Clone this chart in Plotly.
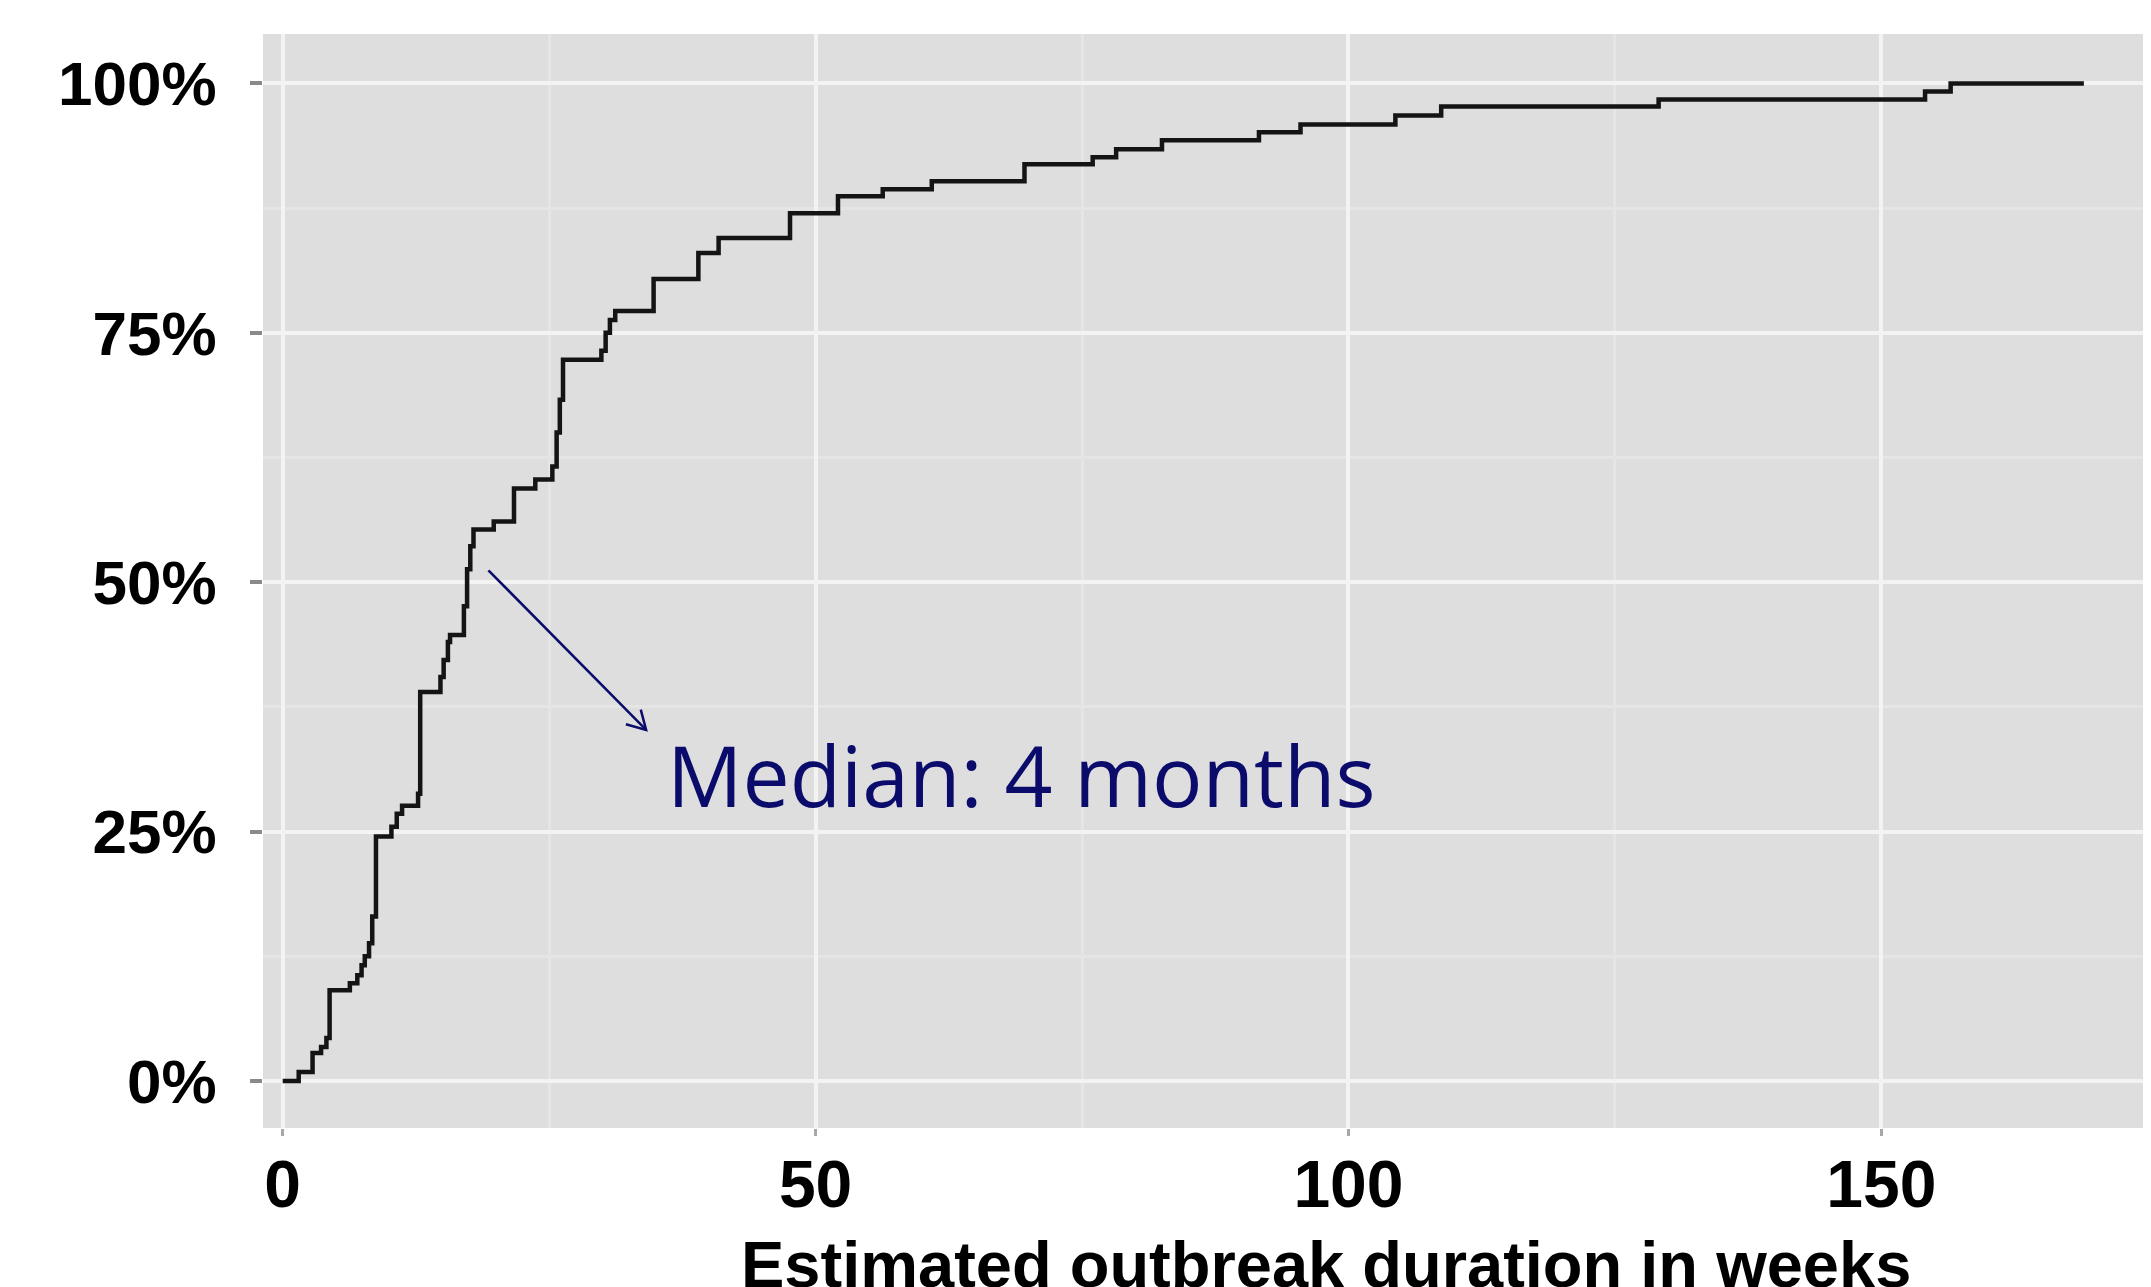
import math
import plotly.graph_objects as go

# ---- data ----
duration_weeks = [0, 1.5, 2.8, 3.6, 4.1, 4.4, 6.3, 7.0, 7.4, 7.7, 8.1, 8.4, 8.75,
                  10.2, 10.7, 11.2, 12.7, 12.9, 14.8, 15.1, 15.5, 15.7, 17.0, 17.3,
                  17.6, 17.9, 19.8, 21.7, 23.7, 25.3, 25.7, 26.0, 26.3, 29.9, 30.3,
                  30.7, 31.2, 34.8, 39.0, 40.9, 47.6, 52.1, 56.3, 60.9, 69.6, 76.0,
                  78.2, 82.5, 91.6, 95.5, 104.4, 108.7, 129.1, 154.1, 156.5, 169.0]
cumulative_pct = [0, 0.9, 2.8, 3.4, 4.3, 9.1, 9.8, 10.6, 11.6, 12.5, 13.8, 16.5, 24.5,
                  25.5, 26.8, 27.6, 28.8, 39.0, 40.5, 42.2, 44.0, 44.7, 47.6, 51.3,
                  53.6, 55.3, 56.1, 59.4, 60.3, 61.6, 65.0, 68.3, 72.3, 73.2, 75.0,
                  76.3, 77.2, 80.4, 83.0, 84.5, 87.0, 88.7, 89.4, 90.2, 91.9, 92.6,
                  93.4, 94.3, 95.1, 95.9, 96.8, 97.7, 98.4, 99.2, 100.0, 100.0]

x_ticks = [0, 50, 100, 150]
x_ticklabels = ["0", "50", "100", "150"]
x_minor = [25, 75, 125, 175]
y_ticks = [0, 25, 50, 75, 100]
y_ticklabels = ["0%", "25%", "50%", "75%", "100%"]
y_minor = [12.5, 37.5, 62.5, 87.5]

x_title = "Estimated outbreak duration in weeks"
median_text = "Median: 4 months"
arrow_tail = (19.3, 51.2)
arrow_head = (34.1, 35.2)
median_label_pos = (35.9, 30.7)

# ---- layout constants (page has an 8px body margin) ----
PAGE_OFF = 8
W, H = 2151 - PAGE_OFF, 1287 - PAGE_OFF
M_L, M_R, M_T, M_B = 263 - PAGE_OFF, 0, 34 - PAGE_OFF, 159
x_range = [-1.85, 175.3]
y_range = [-4.71, 104.96]
NAVY = "#0B0B6B"

fig = go.Figure()
fig.add_trace(go.Scatter(
    x=duration_weeks, y=cumulative_pct, mode="lines",
    line=dict(shape="hv", color="#141414", width=4.5),
    showlegend=False, hoverinfo="skip"))

# arrow (shaft + open chevron head)
plot_w = W - M_L - M_R
plot_h = H - M_T - M_B
px_x = plot_w / (x_range[1] - x_range[0])
px_y = plot_h / (y_range[1] - y_range[0])
hx, hy = arrow_head
tx, ty = arrow_tail
ang = math.atan2(-(ty - hy) * px_y, (tx - hx) * px_x)  # screen coords
arm_len = 21
arms = []
for d in (-0.52, 0.52):
    a = ang + d
    arms.append((hx + arm_len * math.cos(a) / px_x, hy - arm_len * math.sin(a) / px_y))

shapes = [
    dict(type="line", xref="x", yref="y", x0=tx, y0=ty, x1=hx, y1=hy,
         line=dict(color=NAVY, width=2.5)),
    dict(type="path", xref="x", yref="y",
         path=f"M {arms[0][0]},{arms[0][1]} L {hx},{hy} L {arms[1][0]},{arms[1][1]}",
         line=dict(color=NAVY, width=2.5)),
]

annotations = [
    dict(text=median_text, x=median_label_pos[0], y=median_label_pos[1],
         xref="x", yref="y", xanchor="left", yanchor="middle", showarrow=False,
         font=dict(family="Open Sans", size=84, color=NAVY)),
    dict(text=x_title, x=(1326 - 263) / plot_w, y=-0.0896, xref="paper", yref="paper",
         xanchor="center", yanchor="top", showarrow=False,
         font=dict(family="Liberation Sans", size=65, color="black", weight="bold")),
]

fig.update_layout(
    width=W, height=H,
    margin=dict(l=M_L, r=M_R, t=M_T, b=M_B, autoexpand=False),
    paper_bgcolor="white", plot_bgcolor="#DEDEDE",
    shapes=shapes, annotations=annotations,
    showlegend=False,
)
fig.update_xaxes(
    range=x_range, tickmode="array", tickvals=x_ticks, ticktext=x_ticklabels,
    showgrid=True, gridcolor="#F3F3F3", gridwidth=4, zeroline=False,
    ticks="outside", ticklen=7, tickwidth=3, tickcolor="#A8A8A8",
    ticklabelstandoff=-8,
    tickfont=dict(family="Liberation Sans", size=66, color="black", weight="bold"),
    minor=dict(tickvals=x_minor, showgrid=True, gridcolor="#E5E5E5", gridwidth=3, ticks=""),
    showline=False, fixedrange=True,
)
fig.update_yaxes(
    range=y_range, tickmode="array", tickvals=y_ticks, ticktext=y_ticklabels,
    showgrid=True, gridcolor="#F3F3F3", gridwidth=4, zeroline=False,
    ticks="outside", ticklen=12, tickwidth=4, tickcolor="#8A8A8A",
    ticklabelstandoff=21,
    tickfont=dict(family="Liberation Sans", size=62, color="black", weight="bold"),
    minor=dict(tickvals=y_minor, showgrid=True, gridcolor="#E5E5E5", gridwidth=3, ticks=""),
    showline=False, fixedrange=True,
)

fig.write_html("out.html")
